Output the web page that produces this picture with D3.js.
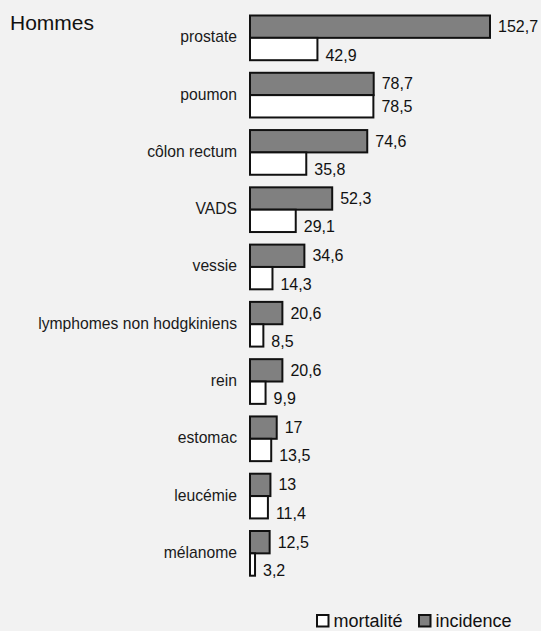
<!DOCTYPE html>
<html>
<head>
<meta charset="utf-8">
<script src="https://cdn.jsdelivr.net/npm/d3@7"></script>
<style>
  html, body { margin: 0; padding: 0; background: #f2f2f2; }
  svg { display: block; font-family: "Liberation Sans", Arial, Helvetica, sans-serif; }
</style>
</head>
<body>
<svg id="chart" width="541" height="631"></svg>
<script>
// Cancer incidence and mortality among men (rates)
const categories = ["prostate", "poumon", "côlon rectum", "VADS", "vessie",
  "lymphomes non hodgkiniens", "rein", "estomac", "leucémie", "mélanome"];
const incidence = [152.7, 78.7, 74.6, 52.3, 34.6, 20.6, 20.6, 17, 13, 12.5];
const mortalite = [42.9, 78.5, 35.8, 29.1, 14.3, 8.5, 9.9, 13.5, 11.4, 3.2];
const seriesNames = ["incidence", "mortalité"];
const title = "Hommes";

const W = 541, H = 631;
const svg = d3.select("#chart");
svg.append("rect").attr("width", W).attr("height", H).attr("fill", "#f2f2f2");

const fillOf = { "incidence": "#808080", "mortalité": "#ffffff" };

const x = d3.scaleLinear().domain([0, 152.7]).range([250, 490]);
const y = d3.scaleBand().domain(categories).range([15.5, 575.7])
  .paddingInner(0.2196).paddingOuter(0);
const ySub = d3.scaleBand().domain(seriesNames).range([0, y.bandwidth()]);

const fmt = v => String(v).replace(".", ",");

const rows = categories.map((c, i) => ({ cat: c, incidence: incidence[i], "mortalité": mortalite[i] }));

// title
svg.append("text").attr("x", 10).attr("y", 30)
  .attr("font-size", 21).attr("fill", "#111").text(title);

const g = svg.append("g");
const groups = g.selectAll("g.row").data(rows).join("g")
  .attr("class", "row")
  .attr("transform", d => `translate(0,${y(d.cat)})`);

// category labels
groups.append("text")
  .attr("x", 237).attr("y", y.bandwidth() / 2 + 4.5)
  .attr("text-anchor", "end").attr("font-size", 15.7).attr("fill", "#1a1a1a")
  .text(d => d.cat);

// bars
groups.selectAll("rect.bar")
  .data(d => seriesNames.map(s => ({ s, v: d[s], row: d })))
  .join("rect").attr("class", "bar")
  .attr("x", x(0))
  .attr("y", d => ySub(d.s))
  .attr("width", d => x(d.v) - x(0))
  .attr("height", ySub.bandwidth())
  .attr("fill", d => fillOf[d.s])
  .attr("stroke", "#111").attr("stroke-width", 2);

// value labels: incidence centred on its bar, mortality dropped toward the bar bottom
// unless both bars end together (then centred)
groups.selectAll("text.val")
  .data(d => seriesNames.map(s => ({ s, v: d[s], row: d })))
  .join("text").attr("class", "val")
  .attr("x", d => x(d.v) + 8)
  .attr("y", d => {
    const c = ySub(d.s) + ySub.bandwidth() / 2;
    if (d.s === "incidence") return c + 5.5;
    const close = d.row["mortalité"] >= 0.9 * d.row.incidence;
    return c + (close ? 6 : 11.5);
  })
  .attr("font-size", 16).attr("fill", "#111")
  .text(d => fmt(d.v));

// legend
const legendItems = [
  { s: "mortalité", x: 317 },
  { s: "incidence", x: 419 }
];
const lg = svg.append("g");
const li = lg.selectAll("g").data(legendItems).join("g")
  .attr("transform", d => `translate(${d.x},615)`);
li.append("rect").attr("width", 11.5).attr("height", 11.5)
  .attr("fill", d => fillOf[d.s]).attr("stroke", "#111").attr("stroke-width", 2);
li.append("text").attr("x", 16.5).attr("y", 12)
  .attr("font-size", 18).attr("fill", "#111").text(d => d.s);
</script>
</body>
</html>
